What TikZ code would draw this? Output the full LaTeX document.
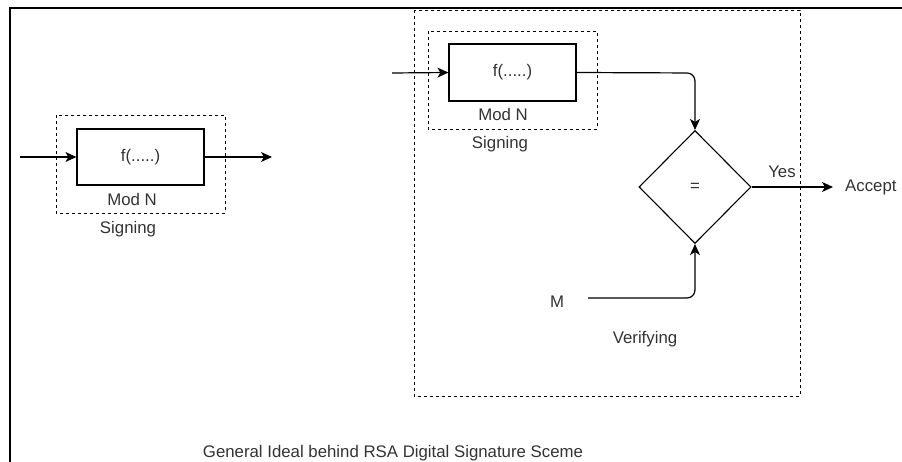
\documentclass[tikz,border=0pt]{standalone}
\usepackage{fontspec}
\setmainfont{Liberation Sans}
\usetikzlibrary{arrows.meta,shapes.geometric}
\definecolor{txt}{HTML}{333333}
\begin{document}
\begin{tikzpicture}[x=1pt,y=-1pt,
  every node/.style={font=\fontsize{16.8}{19}\selectfont, text=txt},
  fbox/.style={draw=black, line width=1.2pt, minimum width=127pt, minimum height=56pt, inner sep=0pt},
  dbox/.style={draw=black, line width=0.9pt, dash pattern=on 3pt off 3pt},
  conn/.style={draw=black, line width=1.2pt, -{Stealth[length=11pt,width=10pt,inset=3pt]}},
  lbl/.style={inner sep=0pt, anchor=center}]
\useasboundingbox (0,0) rectangle (902,462);
% outer frame (left and top edges)
\draw[line width=1.6pt] (10,462) -- (10,8) -- (902,8);

% left signing block
\draw[dbox] (56,115) rectangle (225,213);
\node[fbox] (f1) at (140.5,157) {f(.....)};
\node[lbl] (mod1) at (132,199) {Mod N};
\node[lbl] (sig1) at (128,229) {Signing};
\coordinate (in1) at (20,157);
\coordinate (out1) at (272,157);
\draw[conn] (in1) -- (f1.west);
\draw[conn] (f1.east) -- (out1);

% right verifying block
\draw[dbox] (414,10) rectangle (800,396);
\draw[dbox] (428,31) rectangle (597,129);
\node[fbox, minimum height=57pt] (f2) at (512.5,72.5) {f(.....)};
\node[lbl] (mod2) at (503,114) {Mod N};
\node[lbl] (sig2) at (500,144) {Signing};
\coordinate (in2) at (392,73);
\draw[conn] (in2) -- (f2.west);

\node[diamond, draw=black, line width=1.1pt, minimum width=112pt, minimum height=113pt, inner sep=0pt, aspect=1] (eq) at (695,187) {=};
\draw[conn, rounded corners=8pt] (f2.east) -- (695,73) -- (eq.north);

\node[lbl] (yes) at (782,172) {Yes};
\node[lbl, anchor=west] (acc) at (845,187) {Accept};
\coordinate (out2) at (833,187);
\draw[conn] (eq.east) -- (out2);

\node[lbl] (m) at (557,302) {M};
\coordinate (min) at (588,298);
\draw[conn, rounded corners=8pt] (min) -- (695,298) -- (eq.south);

\node[lbl] (ver) at (645,339) {Verifying};

\node[lbl] (cap) at (393,453) {General Ideal behind RSA Digital Signature Sceme};
\end{tikzpicture}
\end{document}
